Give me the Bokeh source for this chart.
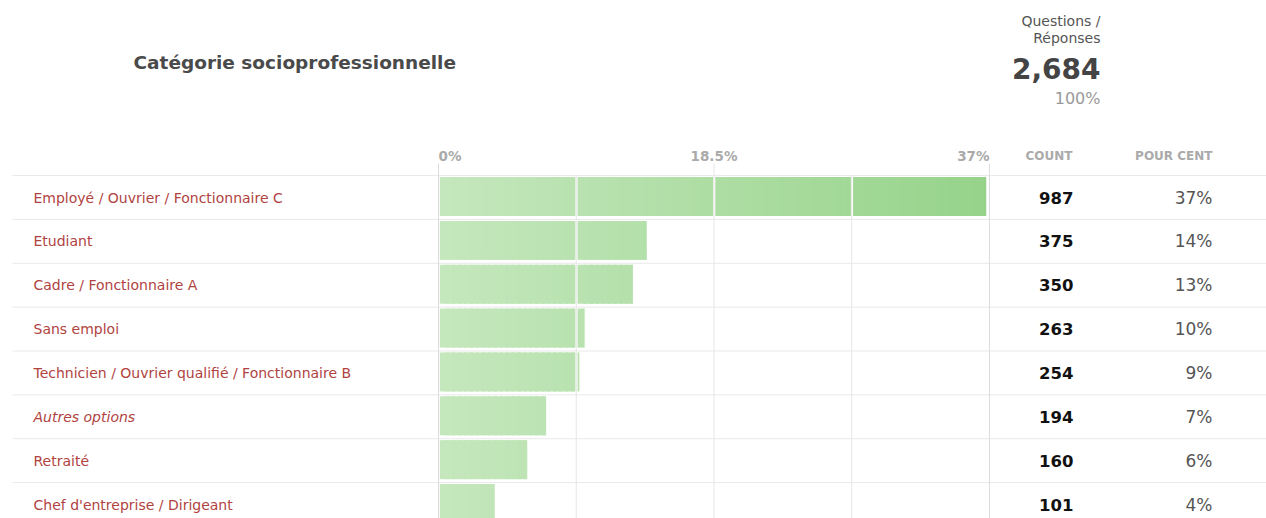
from bokeh.plotting import figure
from bokeh.models import Range1d, ColumnDataSource
from bokeh.core.properties import value
from bokeh.embed import file_html
from bokeh.resources import INLINE

# ---------------- data ----------------
title = "Catégorie socioprofessionnelle"
categories = [
    "Employé / Ouvrier / Fonctionnaire C",
    "Etudiant",
    "Cadre / Fonctionnaire A",
    "Sans emploi",
    "Technicien / Ouvrier qualifié / Fonctionnaire B",
    "Autres options",
    "Retraité",
    "Chef d'entreprise / Dirigeant",
]
counts = [987, 375, 350, 263, 254, 194, 160, 101]
pct_labels = ["37%", "14%", "13%", "10%", "9%", "7%", "6%", "4%"]
italic_rows = ["Autres options"]
total = 2684
total_pct_label = "100%"
axis_max = 37.0
tick_values = [0, 18.5, 37]
tick_labels = ["0%", "18.5%", "37%"]
grid_values = [0, 9.25, 18.5, 27.75, 37]
col_headers = ["COUNT", "POUR CENT"]
stat_caption = ["Questions /", "Réponses"]

# ---------------- layout ----------------
W, H = 1266, 518
X0, X1 = 438, 989          # pixel of 0% and of axis max
ROW0, ROWH = 197, 43.86    # pixel centre of first row, row height
FONT = "DejaVu Sans"
ppp = (X1 - X0) / axis_max  # pixels per percent

p = figure(width=W, height=H, x_range=Range1d(0, W), y_range=Range1d(H, 0),
           output_backend="svg", toolbar_location=None, min_border=0,
           background_fill_color="white", border_fill_color="white")
p.axis.visible = False
p.grid.visible = False
p.outline_line_color = None
p.extra_x_ranges = {"pct": Range1d(-X0 / ppp, (W - X0) / ppp)}
p.extra_y_ranges = {"row": Range1d((H - ROW0) / ROWH, -ROW0 / ROWH)}

n = len(categories)
rows = list(range(n))

# row separators
p.segment(x0=12, x1=W, y0=[i - 0.5 for i in range(n + 1)], y1=[i - 0.5 for i in range(n + 1)],
          y_range_name="row", line_color="#e9e9e9", line_width=1)

# vertical grid lines
for g in grid_values:
    top = 163 if g in tick_values else 175
    col = "#dcdcdc" if g in (0, axis_max) else "#e6e6e6"
    p.segment(x0=[g], x1=[g], y0=[top], y1=[H], x_range_name="pct", line_color=col, line_width=1)

# bars: split at grid lines with white gaps, with a left-to-right gradient
c0 = (197, 231, 189)
c1 = (150, 211, 138)
gap = 2.2 / ppp
step = 0.4
L, R, T, B, C = [], [], [], [], []
for i, cnt in enumerate(counts):
    v = cnt / total * 100
    for k in range(len(grid_values) - 1):
        a, b = grid_values[k], min(grid_values[k + 1], v)
        if b <= a:
            continue
        a2 = a + gap * 0.6
        b2 = b - gap * 0.4 if b == grid_values[k + 1] else b
        x = a2
        while x < b2 - 1e-9:
            r = min(x + step, b2)
            t = ((x + r) / 2) / axis_max
            rgb = tuple(int(round(c0[j] + (c1[j] - c0[j]) * t)) for j in range(3))
            L.append(x)
            R.append(min(x + step * 1.6, b2))
            T.append(i - 0.467)
            B.append(i + 0.422)
            C.append("#%02x%02x%02x" % rgb)
            x = r
p.quad(left=L, right=R, top=T, bottom=B, fill_color=C, line_color=None,
       x_range_name="pct", y_range_name="row")

# title & summary
p.text(x=[133], y=[62], text=[title], text_font=value(FONT), text_font_style="bold",
       text_font_size="18.5px", text_color="#4a4a4a", text_baseline="middle", text_align="left")
p.text(x=[1100, 1100], y=[20, 37], text=stat_caption, text_font=value(FONT),
       text_font_size="14px", text_color="#555555", text_baseline="middle", text_align="right")
p.text(x=[1100], y=[68], text=[f"{total:,}"], text_font=value(FONT), text_font_style="bold",
       text_font_size="28px", text_color="#444444", text_baseline="middle", text_align="right")
p.text(x=[1100], y=[98], text=[total_pct_label], text_font=value(FONT),
       text_font_size="16px", text_color="#9a9a9a", text_baseline="middle", text_align="right")

# header row
aligns = ["left", "center", "right"]
for tv, tl, al in zip(tick_values, tick_labels, aligns):
    p.text(x=[tv], y=[155], text=[tl], x_range_name="pct", text_font=value(FONT),
           text_font_style="bold", text_font_size="13.5px", text_color="#aaaaaa",
           text_baseline="middle", text_align=al)
p.text(x=[1072, 1212], y=[155, 155], text=col_headers, text_font=value(FONT),
       text_font_style="bold", text_font_size="12px", text_color="#aaaaaa",
       text_baseline="middle", text_align="right")

# row labels
styles = ["italic" if c in italic_rows else "normal" for c in categories]
src = ColumnDataSource(dict(y=rows, cat=categories, st=styles,
                            cnt=[str(c) for c in counts], pct=pct_labels))
p.text(x=33, y="y", text="cat", source=src, y_range_name="row", text_font=value(FONT),
       text_font_style="st", text_font_size="14px", text_color="#b0433f",
       text_baseline="middle", text_align="left")
p.text(x=1073, y="y", text="cnt", source=src, y_range_name="row", text_font=value(FONT),
       text_font_style="bold", text_font_size="16.5px", text_color="#111111",
       text_baseline="middle", text_align="right")
p.text(x=1212, y="y", text="pct", source=src, y_range_name="row", text_font=value(FONT),
       text_font_size="17px", text_color="#555555",
       text_baseline="middle", text_align="right")

open("out.html", "w").write(file_html(p, INLINE))
